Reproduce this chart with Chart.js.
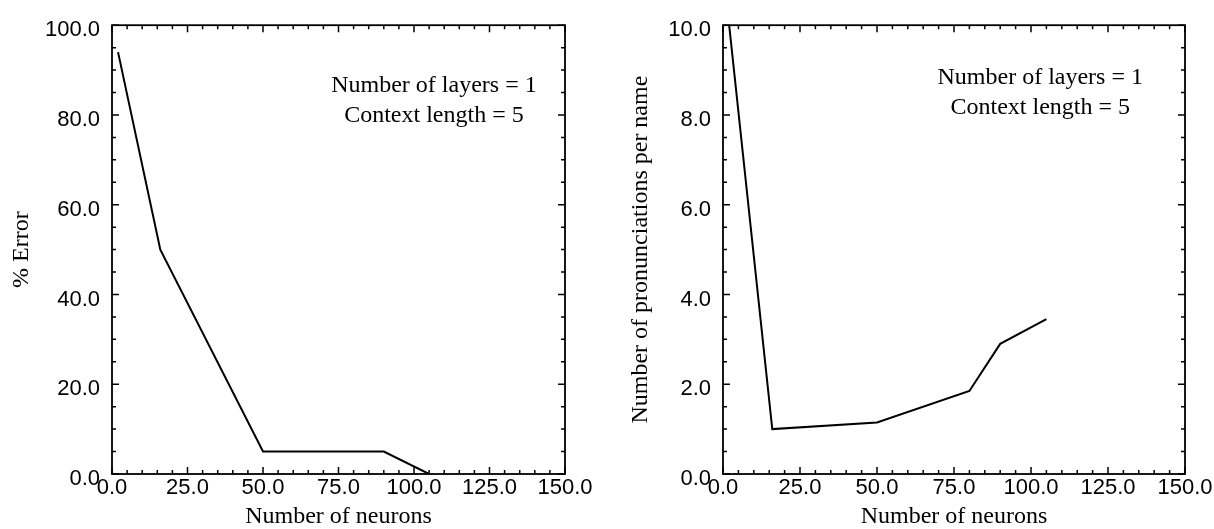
<!DOCTYPE html>
<html>
<head>
<meta charset="utf-8">
<script src="https://cdn.jsdelivr.net/npm/chart.js@4"></script>
<style>
  html, body { margin: 0; padding: 0; background: #fff; }
  #wrap { position: relative; width: 1214px; height: 529px; }
  .panel { position: absolute; top: 0; height: 529px; }
  #left { left: 0; width: 600px; }
  #right { left: 600px; width: 614px; }
</style>
</head>
<body>
<div id="wrap">
  <div class="panel" id="left"><canvas id="errorChart" width="600" height="529"></canvas></div>
  <div class="panel" id="right"><canvas id="pronChart" width="614" height="529"></canvas></div>
</div>
<script>
// left panel: % error vs neurons
const neuronsError = [2, 16, 50, 90, 105];
const errorPct = [94, 50, 5, 5, 0];

// right panel: pronunciations per name vs neurons
const neuronsPron = [2, 16, 50, 80, 90, 105];
const pronPerName = [10, 1.0, 1.15, 1.85, 2.9, 3.45];

const xRange = [0, 150];
const errorRange = [0, 100];
const pronRange = [0, 10];

const noteLines = ['Number of layers = 1', 'Context length = 5'];

const sansFont = "'Liberation Sans', Arial, sans-serif";
const serifFont = "'Liberation Serif', 'Times New Roman', serif";

// frame with inward major/minor ticks on all four sides
const frameTicks = {
  id: 'frameTicks',
  afterDatasetsDraw(chart, args, opts) {
    const { ctx, chartArea: a, scales: { x, y } } = chart;
    ctx.save();
    ctx.strokeStyle = '#000';
    ctx.lineWidth = 1.8;
    ctx.strokeRect(a.left, a.top, a.right - a.left, a.bottom - a.top);
    ctx.lineWidth = 1.5;
    ctx.beginPath();
    const nx = Math.round((x.max - x.min) / opts.xMinor);
    for (let i = 0; i <= nx; i++) {
      const v = x.min + i * opts.xMinor;
      const px = x.getPixelForValue(v);
      const len = (i % opts.xEvery === 0) ? 7 : 4;
      ctx.moveTo(px, a.bottom); ctx.lineTo(px, a.bottom - len);
      ctx.moveTo(px, a.top); ctx.lineTo(px, a.top + len);
    }
    const ny = Math.round((y.max - y.min) / opts.yMinor);
    for (let i = 0; i <= ny; i++) {
      const v = y.min + i * opts.yMinor;
      const py = y.getPixelForValue(v);
      const len = (i % opts.yEvery === 0) ? 7 : 4;
      ctx.moveTo(a.left, py); ctx.lineTo(a.left + len, py);
      ctx.moveTo(a.right, py); ctx.lineTo(a.right - len, py);
    }
    ctx.stroke();
    ctx.restore();
  }
};

// two-line note placed in data coordinates
const noteText = {
  id: 'noteText',
  afterDraw(chart, args, opts) {
    const { ctx, scales: { x, y } } = chart;
    ctx.save();
    ctx.fillStyle = '#000';
    ctx.font = '24px ' + serifFont;
    ctx.textAlign = 'center';
    ctx.textBaseline = 'middle';
    const px = x.getPixelForValue(opts.x);
    const py = y.getPixelForValue(opts.y);
    noteLines.forEach((line, i) => {
      ctx.fillText(line, px, py + i * opts.gap);
    });
    ctx.restore();
  }
};

function makeChart(canvasId, xs, ys, yRange, yStep, yTitle, setup) {
  const points = xs.map((v, i) => ({ x: v, y: ys[i] }));
  return new Chart(document.getElementById(canvasId), {
    type: 'line',
    data: {
      datasets: [{
        data: points,
        borderColor: '#000',
        borderWidth: 2,
        pointRadius: 0,
        fill: false,
        tension: 0
      }]
    },
    options: {
      responsive: false,
      animation: false,
      devicePixelRatio: 1,
      layout: { padding: { top: 17, right: setup.rightPad, bottom: 0, left: 0 } },
      plugins: {
        legend: { display: false },
        tooltip: { enabled: false },
        frameTicks: { xMinor: 5, xEvery: 5, yMinor: yStep / 4, yEvery: 4 },
        noteText: setup.note
      },
      scales: {
        x: {
          type: 'linear',
          min: xRange[0],
          max: xRange[1],
          grid: { display: false, drawTicks: false },
          border: { display: false },
          ticks: {
            stepSize: 25,
            padding: 1,
            color: '#000',
            font: { family: sansFont, size: 22 },
            maxRotation: 0,
            callback: v => v.toFixed(1)
          },
          title: {
            display: true,
            text: 'Number of neurons',
            color: '#000',
            font: { family: serifFont, size: 24, lineHeight: 1.0 },
            padding: { top: 0, bottom: 0 }
          },
          afterFit: s => { s.height = 55; }
        },
        y: {
          type: 'linear',
          min: yRange[0],
          max: yRange[1],
          grid: { display: false, drawTicks: false },
          border: { display: false },
          ticks: {
            stepSize: yStep,
            padding: 12,
            labelOffset: 5,
            color: '#000',
            font: { family: sansFont, size: 22 },
            callback: v => v.toFixed(1)
          },
          title: {
            display: true,
            text: yTitle,
            color: '#000',
            font: { family: serifFont, size: 24, lineHeight: 1.0 },
            padding: { top: setup.titlePad, bottom: 0 }
          },
          afterFit: s => { s.width = setup.yWidth; }
        }
      }
    },
    plugins: [frameTicks, noteText]
  });
}

makeChart('errorChart', neuronsError, errorPct, errorRange, 20, '% Error', {
  rightPad: 35,
  yWidth: 112,
  titlePad: 10,
  note: { x: 106.6, y: 86.6, gap: 30 }
});

makeChart('pronChart', neuronsPron, pronPerName, pronRange, 2, 'Number of pronunciations per name', {
  rightPad: 29,
  yWidth: 123,
  titlePad: 29,
  note: { x: 103, y: 8.82, gap: 30 }
});
</script>
</body>
</html>
